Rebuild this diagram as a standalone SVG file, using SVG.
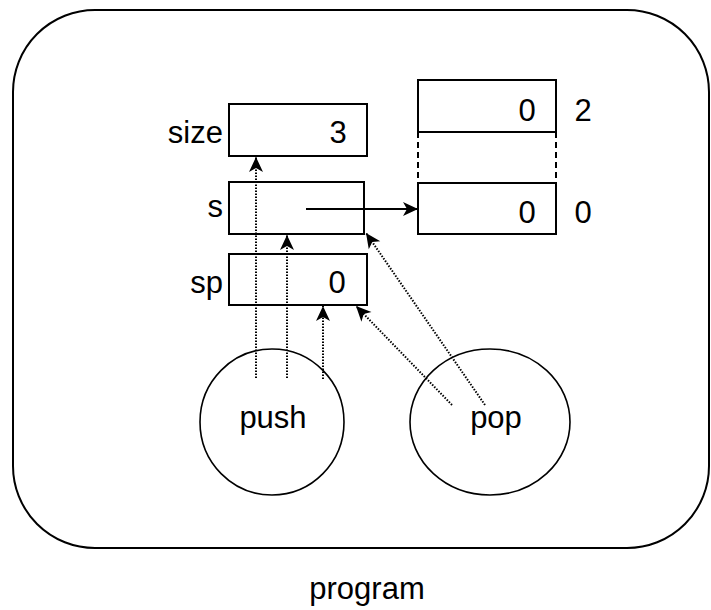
<svg xmlns="http://www.w3.org/2000/svg" width="711" height="610" viewBox="0 0 711 610">
  <style>
    .box { fill: #fff; stroke: #000; stroke-width: 2; }
    .oval { fill: #fff; stroke: #000; stroke-width: 1.6; }
    .frame { fill: #fff; stroke: #000; stroke-width: 2; }
    .txt { font-family: "Liberation Sans", Arial, sans-serif; font-size: 31px; fill: #000; }
    .mid { text-anchor: middle; }
    .end { text-anchor: end; }
    .dot { fill: none; stroke: #000; stroke-width: 2; stroke-dasharray: 1.5 1.5; }
    .solid { fill: none; stroke: #000; stroke-width: 2; }
    .dash { fill: none; stroke: #000; stroke-width: 2; stroke-dasharray: 6 4; }
  </style>
  <defs>
    <marker id="head" viewBox="-16 -8 17 16" refX="0" refY="0" markerWidth="17" markerHeight="16" orient="auto" markerUnits="userSpaceOnUse">
      <path d="M0,0 L-15,-7 L-11,0 L-15,7 Z" fill="#000"/>
    </marker>
  </defs>

  <!-- enclosing program boundary -->
  <g id="program">
    <rect class="frame" x="13" y="10" width="696" height="538" rx="82" ry="82"/>
    <text class="txt mid" x="367" y="599">program</text>
  </g>

  <!-- variables -->
  <g id="size">
    <rect class="box" x="229" y="104" width="138" height="52"/>
    <text class="txt end" x="223" y="143">size</text>
    <text class="txt mid" x="338" y="143">3</text>
  </g>
  <g id="s">
    <rect class="box" x="229" y="182" width="135" height="52"/>
    <text class="txt end" x="223" y="217">s</text>
  </g>
  <g id="sp">
    <rect class="box" x="229" y="254" width="138" height="51"/>
    <text class="txt end" x="223" y="293">sp</text>
    <text class="txt mid" x="337" y="293">0</text>
  </g>

  <!-- array cells -->
  <g id="cell-2">
    <rect class="box" x="418" y="80" width="138" height="52"/>
    <text class="txt mid" x="527" y="121">0</text>
    <text class="txt mid" x="583" y="121">2</text>
  </g>
  <g id="cell-gap">
    <line class="dash" x1="418" y1="132" x2="418" y2="183"/>
    <line class="dash" x1="556" y1="132" x2="556" y2="183"/>
  </g>
  <g id="cell-0">
    <rect class="box" x="418" y="183" width="138" height="51"/>
    <text class="txt mid" x="527" y="223">0</text>
    <text class="txt mid" x="583" y="223">0</text>
  </g>

  <!-- functions -->
  <g id="push">
    <ellipse class="oval" cx="272" cy="422" rx="72" ry="73"/>
    <text class="txt mid" x="273" y="428">push</text>
  </g>
  <g id="pop">
    <ellipse class="oval" cx="490" cy="422" rx="80" ry="73"/>
    <text class="txt mid" x="496" y="428">pop</text>
  </g>

  <!-- connectors -->
  <g id="connectors">
    <line class="solid" x1="306" y1="209" x2="418" y2="209" marker-end="url(#head)"/>
    <line class="dot" x1="256" y1="378" x2="256" y2="157" marker-end="url(#head)"/>
    <line class="dot" x1="287" y1="378" x2="287" y2="235" marker-end="url(#head)"/>
    <line class="dot" x1="323" y1="379" x2="323" y2="306" marker-end="url(#head)"/>
    <line class="dot" x1="452" y1="405" x2="356" y2="306" marker-end="url(#head)"/>
    <line class="dot" x1="485" y1="405" x2="366" y2="233" marker-end="url(#head)"/>
  </g>
</svg>
